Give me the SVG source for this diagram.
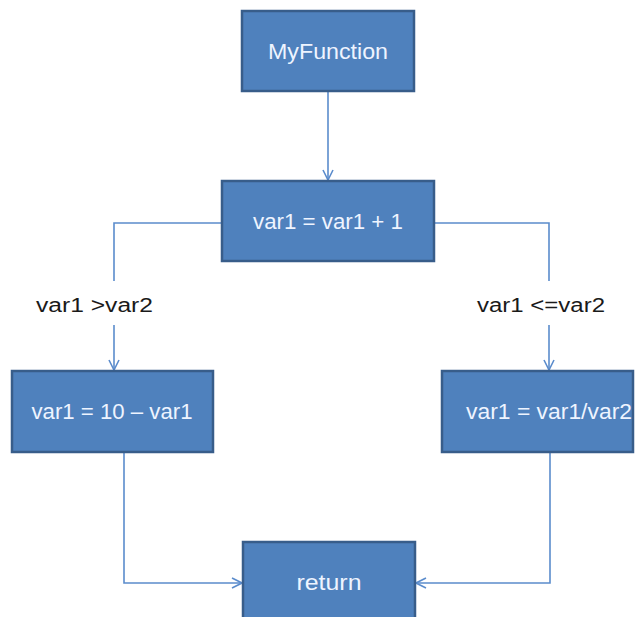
<svg xmlns="http://www.w3.org/2000/svg" width="643" height="617" viewBox="0 0 643 617">
  <style>
    .box { fill: #4f81bd; stroke: #385d8a; stroke-width: 2.5; }
    .btxt { fill: #eef4ff; font-family: "Liberation Sans", Arial, sans-serif; font-size: 22px; text-anchor: middle; }
    .lbl { fill: #1a1a1a; font-family: "Liberation Sans", Arial, sans-serif; font-size: 20px; }
    .wire { fill: none; stroke: #5b8ccc; stroke-width: 1.6; }
  </style>
  <defs>
    <marker id="arrow" viewBox="0 0 12 12" refX="11" refY="6" markerWidth="12" markerHeight="12" markerUnits="userSpaceOnUse" orient="auto">
      <path d="M1,1 L11,6 L1,11" fill="none" stroke="#5b8ccc" stroke-width="1.6"/>
    </marker>
  </defs>
  <rect width="643" height="617" fill="#ffffff"/>

  <g id="connectors">
    <path class="wire" d="M328,91 V180" marker-end="url(#arrow)"/>
    <path class="wire" d="M222,223 H114 V281"/>
    <path class="wire" d="M114,325 V370" marker-end="url(#arrow)"/>
    <path class="wire" d="M434,223 H549 V281"/>
    <path class="wire" d="M549,325 V370" marker-end="url(#arrow)"/>
    <path class="wire" d="M124,452 V583 H242" marker-end="url(#arrow)"/>
    <path class="wire" d="M550,452 V583 H416" marker-end="url(#arrow)"/>
  </g>

  <g id="myfunction">
    <rect class="box" x="242" y="11" width="172" height="80"/>
    <text class="btxt" x="328" y="59" textLength="120" lengthAdjust="spacingAndGlyphs">MyFunction</text>
  </g>
  <g id="increment">
    <rect class="box" x="222" y="181" width="212" height="80"/>
    <text class="btxt" x="328" y="229" textLength="150" lengthAdjust="spacingAndGlyphs">var1 =  var1 + 1</text>
  </g>
  <g id="subtract">
    <rect class="box" x="12" y="371" width="201" height="81"/>
    <text class="btxt" x="112" y="419" textLength="161" lengthAdjust="spacingAndGlyphs">var1 = 10 – var1</text>
  </g>
  <g id="divide">
    <rect class="box" x="442" y="371" width="191" height="81"/>
    <text class="btxt" x="549" y="419" textLength="166" lengthAdjust="spacingAndGlyphs">var1 = var1/var2</text>
  </g>
  <g id="return">
    <rect class="box" x="243" y="542" width="172" height="82"/>
    <text class="btxt" x="329" y="590" textLength="65" lengthAdjust="spacingAndGlyphs">return</text>
  </g>

  <g id="labels">
    <text class="lbl" x="36" y="312" textLength="117" lengthAdjust="spacingAndGlyphs">var1  &gt;var2</text>
    <text class="lbl" x="477" y="312" textLength="128" lengthAdjust="spacingAndGlyphs">var1  &lt;=var2</text>
  </g>
</svg>
